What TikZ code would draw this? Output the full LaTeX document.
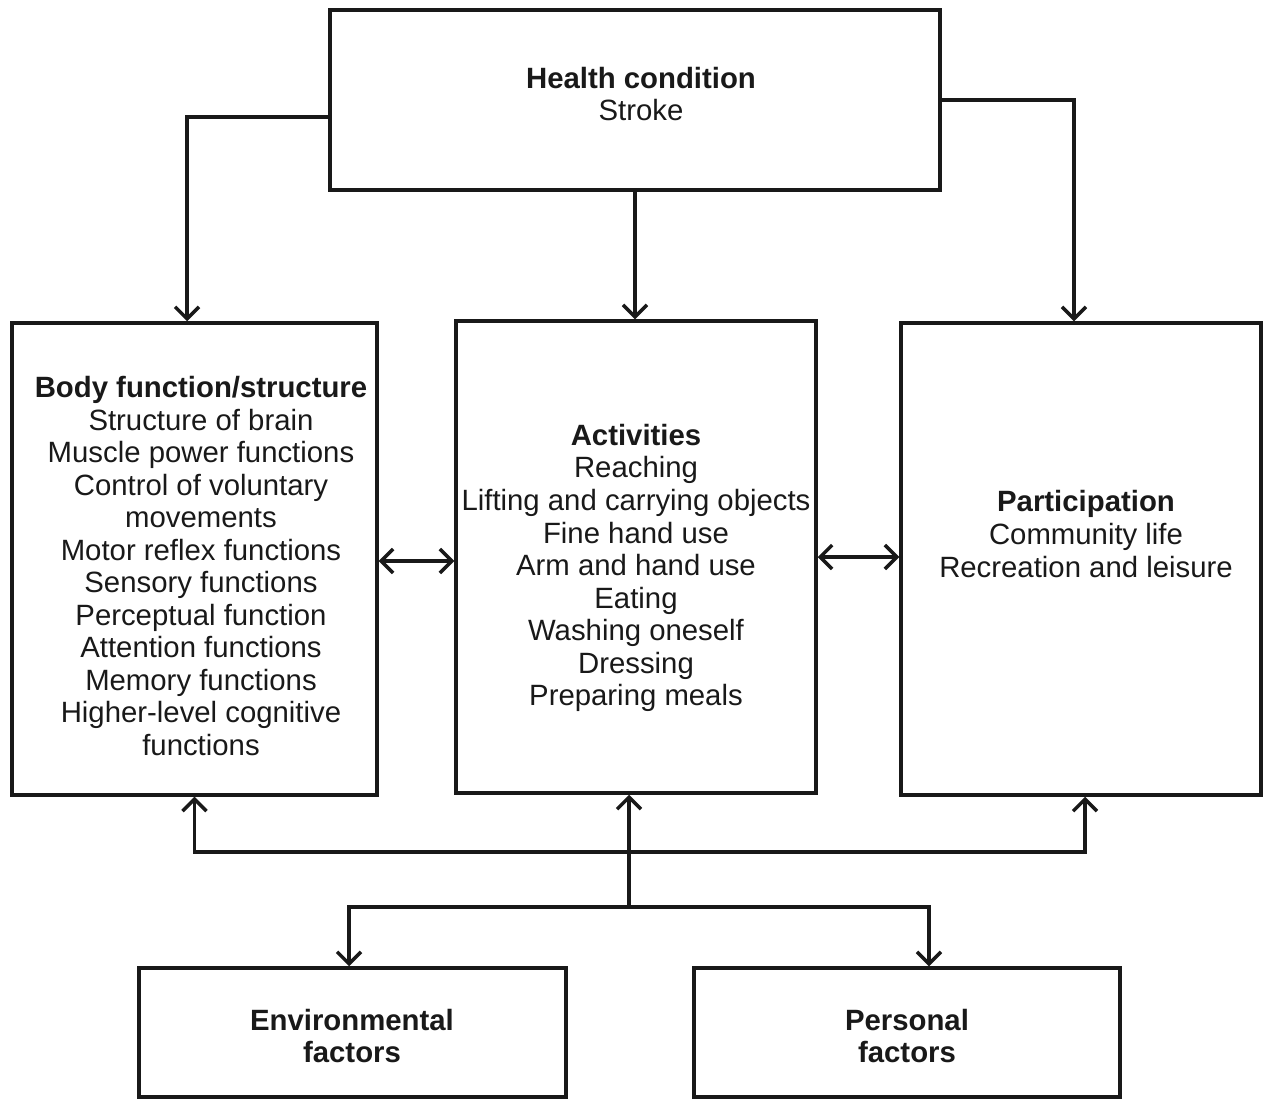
\documentclass[tikz,border=0pt]{standalone}
\usepackage{fontspec}
\setmainfont{Liberation Sans}
\usetikzlibrary{arrows.meta,calc}
\tikzset{
  box/.style={draw=black!90, line width=2.6pt, minimum width=#1, inner sep=0pt},
  lbl/.style={align=center, font=\fontsize{22pt}{24.4pt}\selectfont, inner sep=0pt, text=black!90},
  conn/.style={draw=black!90, line width=2.6pt, line join=miter},
  tip/.style={-{Straight Barb[length=9pt,width=18pt,line width=2.6pt]}},
  tips/.style={{Straight Barb[length=9pt,width=18pt,line width=2.6pt]}-{Straight Barb[length=9pt,width=18pt,line width=2.6pt]}}
}
\begin{document}
\begin{tikzpicture}[x=0.75pt,y=-0.75pt]
\useasboundingbox[fill=white] (0,0) rectangle (1263,1099);
% boxes
\node[box=457.5pt, minimum height=135pt] (top) at (635,100) {};
\node[box=273.75pt, minimum height=354pt] (body) at (194.5,559) {};
\node[box=270pt, minimum height=354pt] (mid) at (636,557) {};
\node[box=270pt, minimum height=354pt] (part) at (1081,559) {};
\node[box=320.25pt, minimum height=96.75pt] (env) at (352.5,1032.5) {};
\node[box=319.5pt, minimum height=96.75pt] (pers) at (907,1032.5) {};
% texts
\node[lbl] (topt) at (641,94) {\textbf{Health condition}\\Stroke};
\node[lbl] (bodyt) at (201,566) {\textbf{Body function/structure}\\Structure of brain\\Muscle power functions\\Control of voluntary\\movements\\Motor reflex functions\\Sensory functions\\Perceptual function\\Attention functions\\Memory functions\\Higher-level cognitive\\functions};
\node[lbl] (midt) at (636,568) {\textbf{Activities}\\Reaching\\Lifting and carrying objects\\Fine hand use\\Arm and hand use\\Eating\\Washing oneself\\Dressing\\Preparing meals};
\node[lbl] (partt) at (1086,534) {\textbf{Participation}\\Community life\\Recreation and leisure};
\node[lbl] (envt) at (352,1036) {\textbf{Environmental}\\\textbf{factors}};
\node[lbl] (perst) at (907,1036) {\textbf{Personal}\\\textbf{factors}};
% junction points
\coordinate (jA) at (629,852);
\coordinate (jB) at (629,907);
% connectors from health condition
\draw[conn,tip] ([yshift=-12.75pt]top.west) -| ([xshift=-5.6pt]body.north);
\draw[conn,tip] (top.south) -- (top.south |- mid.north);
\draw[conn,tip] (top.east) -| ([xshift=-5.25pt]part.north);
% double arrows between middle row
\draw[conn,tips] ([yshift=-1.5pt]body.east) -- ([yshift=-1.5pt]body.east -| mid.west);
\draw[conn,tips] (mid.east) -- (mid.east -| part.west);
% bottom connectors
\draw[conn,tips] (body.south) |- (jA) -| ([xshift=3pt]part.south);
\draw[conn,tip] (jB) -- (mid.south -| jB);
\draw[conn,tips] ([xshift=-2.6pt]env.north) |- (jB) -| ([xshift=16.5pt]pers.north);
\end{tikzpicture}
\end{document}
